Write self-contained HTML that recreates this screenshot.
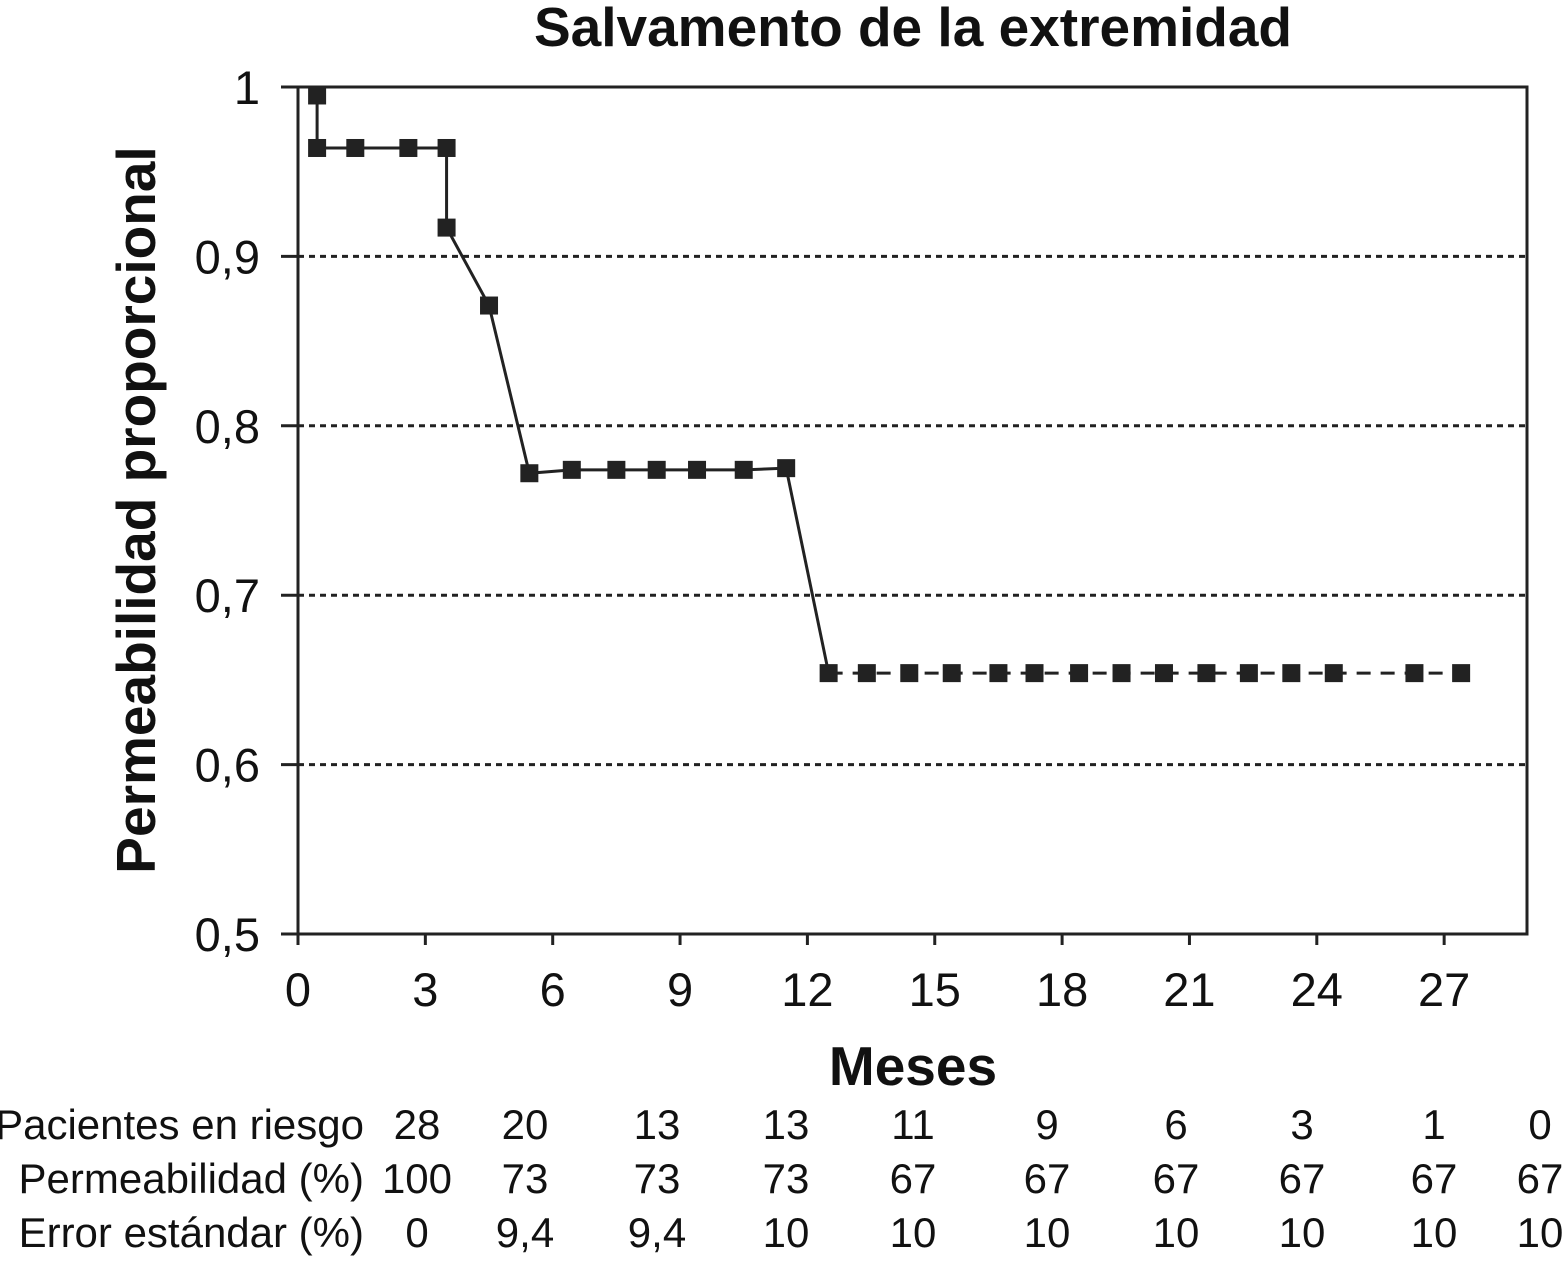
<!DOCTYPE html>
<html><head><meta charset="utf-8"><style>
body{margin:0;background:#fff;}
svg text{font-family:"Liberation Sans",Arial,sans-serif;fill:#111;}
</style></head><body>
<svg id="chart" width="1564" height="1260" viewBox="0 0 1564 1260" xmlns="http://www.w3.org/2000/svg">
<text x="913" y="46" font-size="55" font-weight="bold" text-anchor="middle">Salvamento de la extremidad</text>
<text transform="translate(155,510) rotate(-90)" font-size="55" font-weight="bold" text-anchor="middle">Permeabilidad proporcional</text>
<text x="913" y="1085" font-size="55" font-weight="bold" text-anchor="middle">Meses</text>
<g id="grid"></g><g id="axes"></g><g id="series"></g><g id="table"></g>
</svg>
<script>
const months=[0.45,0.45,1.35,2.6,3.5,3.5,4.5,5.45,6.45,7.5,8.45,9.4,10.5,11.5,12.5,13.4,14.4,15.4,16.5,17.35,18.4,19.4,20.4,21.4,22.4,23.4,24.4,26.3,27.4];
const survival=[0.995,0.964,0.964,0.964,0.964,0.917,0.871,0.772,0.774,0.774,0.774,0.774,0.774,0.775,0.654,0.654,0.654,0.654,0.654,0.654,0.654,0.654,0.654,0.654,0.654,0.654,0.654,0.654,0.654];
const solidCount=15;
const xTicks=[0,3,6,9,12,15,18,21,24,27];
const yTicks=[0.5,0.6,0.7,0.8,0.9,1];
const yTickLabels=["0,5","0,6","0,7","0,8","0,9","1"];
const rowLabels=["Pacientes en riesgo","Permeabilidad (%)","Error estándar (%)"];
const atRisk=["28","20","13","13","11","9","6","3","1","0"];
const perm=["100","73","73","73","67","67","67","67","67","67"];
const stdErr=["0","9,4","9,4","10","10","10","10","10","10","10"];
const NS="http://www.w3.org/2000/svg";
const X0=298,X1=1527,Y0=934,Y1=87;
const xs=m=>X0+m*42.45;
const ys=v=>Y0-(v-0.5)/0.5*(Y0-Y1);
function mk(tag,attrs,parent,text){const e=document.createElementNS(NS,tag);for(const k in attrs)e.setAttribute(k,attrs[k]);if(text!==undefined)e.textContent=text;document.getElementById(parent).appendChild(e);return e;}
yTicks.forEach((v,i)=>{
  if(v>0.5&&v<1){const g=mk('line',{x1:X0,x2:X1,y1:ys(v),y2:ys(v),stroke:'#222','stroke-width':3,'stroke-dasharray':'6 5'},'grid');
  
  }
  const t=mk('line',{x1:281,x2:X0,y1:ys(v),y2:ys(v),stroke:'#222','stroke-width':3},'axes');
  
  
  const l=mk('text',{x:260,y:ys(v)+17,'font-size':47,'text-anchor':'end'},'axes',yTickLabels[i]);
  
  
});
const frame=mk('rect',{x:X0,y:Y1,width:X1-X0,height:Y0-Y1,fill:'none',stroke:'#222','stroke-width':3},'axes');


xTicks.forEach(m=>{
  const t=mk('line',{x1:xs(m),x2:xs(m),y1:Y0,y2:Y0+11,stroke:'#222','stroke-width':3},'axes');
  
  
  const l=mk('text',{x:xs(m),y:1006,'font-size':47,'text-anchor':'middle'},'axes',String(m));
  
  
});
const solidPts=months.slice(0,solidCount).map((m,i)=>xs(m)+','+ys(survival[i])).join(' ');
const dashPts=months.slice(solidCount-1).map((m,i)=>xs(m)+','+ys(survival[i+solidCount-1])).join(' ');
const s1=mk('polyline',{points:solidPts,fill:'none',stroke:'#222','stroke-width':3},'series');


const s2=mk('polyline',{points:dashPts,fill:'none',stroke:'#222','stroke-width':3,'stroke-dasharray':'14 10'},'series');


months.forEach((m,i)=>{
  const r=mk('rect',{x:xs(m)-9,y:ys(survival[i])-9,width:18,height:18,fill:'#222'},'series');
  
  
});
const colX=[417,525,657,786,913,1047,1176,1302,1434,1540];
const rowY=[1139,1193,1247];
[atRisk,perm,stdErr].forEach((row,ri)=>{
  const lab=mk('text',{x:364,y:rowY[ri],'font-size':42,'text-anchor':'end'},'table',rowLabels[ri]);
  
  
  row.forEach((v,ci)=>{
    const t=mk('text',{x:colX[ci],y:rowY[ri],'font-size':42,'text-anchor':'middle'},'table',v);
    
    
  });
});
</script>
</body></html>
